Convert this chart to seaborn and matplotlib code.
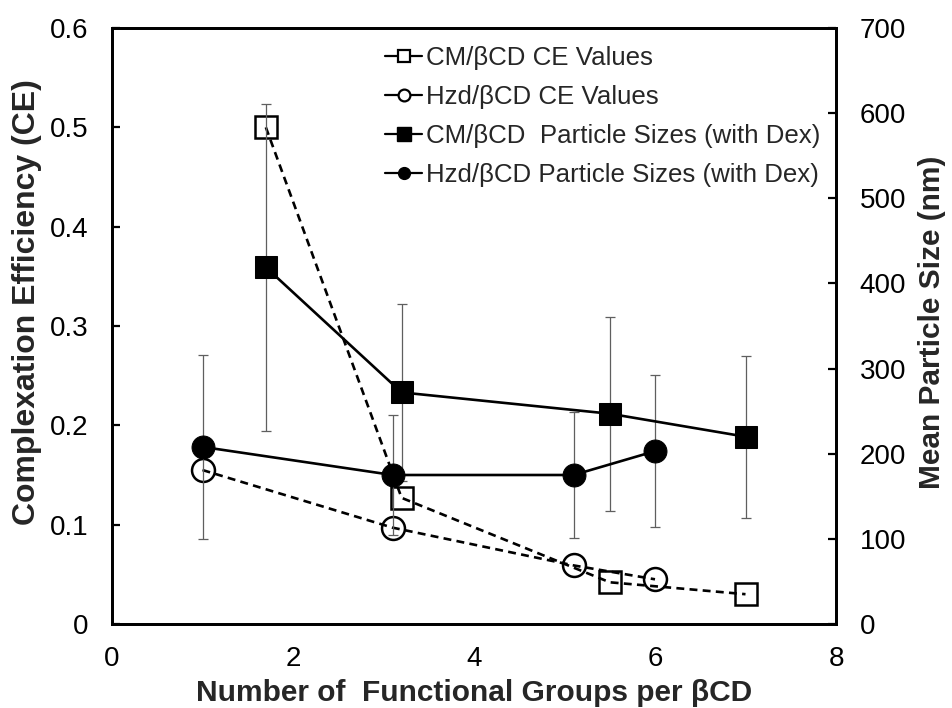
import matplotlib
matplotlib.use("Agg")
import matplotlib.pyplot as plt
from matplotlib.lines import Line2D
import seaborn as sns
import pandas as pd

# Complexation efficiency (left axis)
cm_ce_x = [1.7, 3.2, 5.5, 7.0]
cm_ce = [0.50, 0.127, 0.042, 0.030]
hzd_ce_x = [1.0, 3.1, 5.1, 6.0]
hzd_ce = [0.155, 0.097, 0.059, 0.045]

# Mean particle size with Dex (right axis), with standard deviations
cm_size_x = [1.7, 3.2, 5.5, 7.0]
cm_size = [419, 272, 247, 220]
cm_size_err = [192, 104, 114, 95]
hzd_size_x = [1.0, 3.1, 5.1, 6.0]
hzd_size = [208, 175, 175, 203]
hzd_size_err = [108, 70, 74, 89]

labels = ["CM/\u03b2CD CE Values",
          "Hzd/\u03b2CD CE Values",
          "CM/\u03b2CD  Particle Sizes (with Dex)",
          "Hzd/\u03b2CD Particle Sizes (with Dex)"]

sns.set_theme(style="white")
plt.rcParams["font.family"] = ["Liberation Sans", "DejaVu Sans"]

fig = plt.figure(figsize=(9.52, 7.08), dpi=100)
ax = fig.add_axes([112 / 952, 1 - 624 / 708, (836 - 112) / 952, (624 - 28) / 708])
ax2 = ax.twinx()

lw = 1.9
ms = 16.5

cm_ce_df = pd.DataFrame({"x": cm_ce_x, "y": cm_ce})
hzd_ce_df = pd.DataFrame({"x": hzd_ce_x, "y": hzd_ce})
cm_size_df = pd.DataFrame({"x": cm_size_x, "y": cm_size, "err": cm_size_err})
hzd_size_df = pd.DataFrame({"x": hzd_size_x, "y": hzd_size, "err": hzd_size_err})

# CE values: dashed lines with open markers
sns.lineplot(data=cm_ce_df, x="x", y="y", ax=ax, color="black", lw=lw,
             marker="s", markersize=ms, markerfacecolor="none",
             markeredgecolor="black", markeredgewidth=1.8, zorder=3)
sns.lineplot(data=hzd_ce_df, x="x", y="y", ax=ax, color="black", lw=lw,
             marker="o", markersize=ms, markerfacecolor="none",
             markeredgecolor="black", markeredgewidth=1.8, zorder=3)
for line in ax.lines:
    line.set_dashes((3.0, 2.0))

# error bars for particle sizes, drawn beneath the markers
for df in (cm_size_df, hzd_size_df):
    ax2.errorbar(df["x"], df["y"], yerr=df["err"], fmt="none",
                 ecolor="#5f5f5f", elinewidth=0.9, capsize=3.5, capthick=0.9,
                 zorder=1)

# particle sizes: solid lines with filled markers
sns.lineplot(data=cm_size_df, x="x", y="y", ax=ax2, color="black", lw=lw,
             marker="s", markersize=ms, markerfacecolor="black",
             markeredgecolor="black", zorder=3)
sns.lineplot(data=hzd_size_df, x="x", y="y", ax=ax2, color="black", lw=lw,
             marker="o", markersize=ms, markerfacecolor="black",
             markeredgecolor="black", zorder=3)

ax.set_xlim(0, 8)
ax.set_ylim(0, 0.6)
ax2.set_ylim(0, 700)
ax.set_xticks([0, 2, 4, 6, 8])
ax.set_yticks([0, 0.1, 0.2, 0.3, 0.4, 0.5, 0.6])
ax.set_yticklabels(["0", "0.1", "0.2", "0.3", "0.4", "0.5", "0.6"])
ax2.set_yticks(range(0, 701, 100))

for a in (ax, ax2):
    for s in a.spines.values():
        s.set_color("black")
        s.set_linewidth(2.0)
    a.tick_params(direction="in", length=6, width=1.6, colors="black",
                  labelsize=20, pad=17)
ax.tick_params(axis="x", pad=16)

ax.set_xlabel("Number of  Functional Groups per \u03b2CD", fontsize=21.5,
              fontweight="bold")
ax.set_ylabel("Complexation Efficiency (CE)", fontsize=23, fontweight="bold")
ax2.set_ylabel("Mean Particle Size (nm)", fontsize=21.5, fontweight="bold")
ax.xaxis.set_label_coords(0.5, -0.093)
ax.yaxis.set_label_coords(-0.096, 0.54)
ax2.yaxis.set_label_coords(1.113, 0.507)

leg_handles = [
    Line2D([], [], color="black", lw=1.6, marker="s", markersize=8.5,
           markerfacecolor="white", markeredgewidth=1.6),
    Line2D([], [], color="black", lw=1.6, marker="o", markersize=8.5,
           markerfacecolor="white", markeredgewidth=1.6),
    Line2D([], [], color="black", lw=1.6, marker="s", markersize=9.5,
           markerfacecolor="black"),
    Line2D([], [], color="black", lw=1.6, marker="o", markersize=8.5,
           markerfacecolor="black"),
]
ax2.legend(leg_handles, labels, loc="upper left",
           bbox_to_anchor=(385 / 952, 1 - 46 / 708),
           bbox_transform=fig.transFigure, frameon=False, fontsize=18.6,
           handlelength=1.45, handletextpad=0.15, labelspacing=0.58,
           borderpad=0, borderaxespad=0)

fig.savefig("out.png", dpi=100)
